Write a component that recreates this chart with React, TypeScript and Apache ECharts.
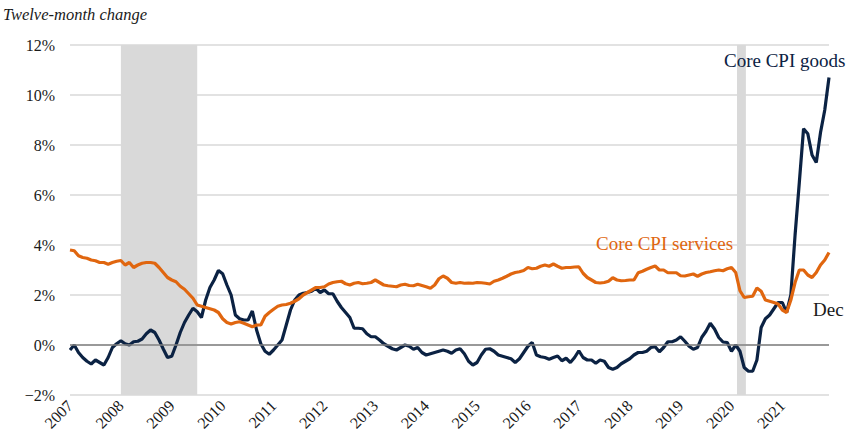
import { useEffect, useRef } from 'react';
import * as echarts from 'echarts';

const yearLabels = ['2007', '2008', '2009', '2010', '2011', '2012', '2013', '2014', '2015', '2016', '2017', '2018', '2019', '2020', '2021'];

// Core CPI goods, twelve-month % change, monthly Jan 2007 - Dec 2021
const coreGoods = [
  -0.2, 0.0, -0.3, -0.5, -0.65, -0.76, -0.6, -0.7, -0.8, -0.5, -0.1, 0.05,
  0.17, 0.05, 0.0, 0.13, 0.15, 0.24, 0.45, 0.6, 0.5, 0.2, -0.16, -0.5,
  -0.45, 0.0, 0.5, 0.9, 1.2, 1.47, 1.33, 1.1, 1.8, 2.3, 2.6, 2.98,
  2.85, 2.4, 2.0, 1.2, 1.05, 1.0, 1.0, 1.36, 0.6, 0.05, -0.25, -0.37,
  -0.2, 0.0, 0.2, 0.8, 1.4, 1.8, 2.0, 2.07, 2.1, 2.15, 2.27, 2.1,
  2.2, 2.05, 2.05, 1.75, 1.5, 1.3, 1.1, 0.67, 0.67, 0.65, 0.45, 0.33,
  0.33, 0.2, 0.05, -0.05, -0.15, -0.2, -0.1, 0.0, -0.05, -0.17, -0.1, -0.3,
  -0.4, -0.35, -0.3, -0.25, -0.2, -0.25, -0.33, -0.2, -0.15, -0.35, -0.65, -0.8,
  -0.7, -0.4, -0.17, -0.15, -0.25, -0.4, -0.45, -0.5, -0.55, -0.7, -0.55, -0.3,
  -0.05, 0.1, -0.4, -0.47, -0.5, -0.57, -0.5, -0.44, -0.63, -0.53, -0.7, -0.5,
  -0.23, -0.5, -0.6, -0.6, -0.73, -0.6, -0.65, -0.9, -0.97, -0.9, -0.75, -0.65,
  -0.55, -0.4, -0.3, -0.3, -0.25, -0.1, -0.07, -0.27, -0.1, 0.13, 0.13, 0.2,
  0.33, 0.15, -0.05, -0.17, -0.1, 0.31, 0.55, 0.87, 0.64, 0.3, 0.12, 0.1,
  -0.25, 0.0, -0.25, -0.9, -1.05, -1.05, -0.6, 0.7, 1.05, 1.2, 1.45, 1.7,
  1.7, 1.3, 2.0, 4.4, 6.5, 8.65, 8.45, 7.6, 7.3, 8.5, 9.4, 10.7,
];

// Core CPI services, twelve-month % change, monthly Jan 2007 - Dec 2021
const coreServices = [
  3.8, 3.77, 3.57, 3.5, 3.47, 3.4, 3.37, 3.3, 3.3, 3.23, 3.3, 3.35,
  3.38, 3.2, 3.3, 3.1, 3.2, 3.27, 3.3, 3.3, 3.27, 3.1, 2.9, 2.7,
  2.6, 2.53, 2.35, 2.23, 2.05, 1.87, 1.6, 1.55, 1.5, 1.45, 1.4, 1.3,
  1.05, 0.9, 0.84, 0.9, 0.93, 0.87, 0.8, 0.73, 0.8, 0.8, 1.15, 1.3,
  1.43, 1.55, 1.6, 1.62, 1.67, 1.75, 1.85, 2.0, 2.1, 2.2, 2.3, 2.3,
  2.33, 2.44, 2.5, 2.53, 2.55, 2.45, 2.4, 2.47, 2.5, 2.45, 2.47, 2.5,
  2.6, 2.5, 2.4, 2.37, 2.35, 2.33, 2.4, 2.43, 2.38, 2.37, 2.43, 2.38,
  2.33, 2.27, 2.4, 2.65, 2.76, 2.67, 2.5, 2.47, 2.5, 2.47, 2.48, 2.47,
  2.5, 2.49, 2.47, 2.44, 2.55, 2.6, 2.67, 2.75, 2.84, 2.9, 2.93, 2.98,
  3.1, 3.05, 3.07, 3.15, 3.2, 3.15, 3.24, 3.15, 3.07, 3.1, 3.1, 3.12,
  3.13, 2.87, 2.7, 2.6, 2.5, 2.48, 2.5, 2.55, 2.69, 2.6, 2.57, 2.58,
  2.6, 2.6, 2.89, 2.95, 3.03, 3.1, 3.16, 3.0, 3.0, 2.89, 2.89, 2.89,
  2.77, 2.76, 2.8, 2.84, 2.75, 2.84, 2.9, 2.93, 2.97, 3.0, 2.97, 3.05,
  3.1, 2.9, 2.17, 1.9, 1.93, 1.95, 2.28, 2.15, 1.8, 1.75, 1.7, 1.64,
  1.4, 1.3, 1.8, 2.5, 3.0, 3.0, 2.8, 2.7, 2.9, 3.2, 3.4, 3.7,
];

// Recession periods in months since Jan 2007
const recessions = [
  [12, 30],
  [157.3, 159.4],
];

const NAVY = '#0b2243';
const ORANGE = '#e0660f';
const FONT = 'Liberation Serif';

export default function App() {
  const ref = useRef<HTMLDivElement>(null);

  useEffect(() => {
    if (!ref.current) return;
    const chart = echarts.init(ref.current, null, { renderer: 'svg' });
    const toPairs = (arr: number[]) => arr.map((v, i) => [i, v]);

    const textStyle = (text: string, fill: string, size: number, italic = false) => ({
      text,
      fill,
      fontFamily: FONT,
      fontSize: size,
      fontStyle: italic ? 'italic' : 'normal',
      verticalAlign: 'middle',
    });

    chart.setOption({
      animation: false,
      textStyle: { fontFamily: FONT },
      grid: { left: 70, right: 24, top: 45, bottom: 48, containLabel: false },
      xAxis: {
        type: 'value',
        min: 0,
        max: 179,
        interval: 12,
        axisLine: { show: false },
        axisTick: { show: false },
        splitLine: { show: false },
        axisLabel: {
          rotate: 45,
          margin: 8,
          fontSize: 16,
          fontFamily: FONT,
          color: '#1a1a1a',
          showMaxLabel: false,
          formatter: (v: number) => (v % 12 === 0 ? yearLabels[v / 12] ?? '' : ''),
        },
      },
      yAxis: {
        type: 'value',
        min: -2,
        max: 12,
        interval: 2,
        axisLine: { show: false },
        axisTick: { show: false },
        splitLine: { lineStyle: { color: '#d9d9d9', width: 1.5 } },
        axisLabel: {
          margin: 15,
          fontSize: 16,
          fontFamily: FONT,
          color: '#1a1a1a',
          formatter: (v: number) => (v < 0 ? '\u2212' + Math.abs(v) : String(v)) + '%',
        },
      },
      series: [
        {
          name: 'Core CPI goods',
          type: 'line',
          data: toPairs(coreGoods),
          showSymbol: false,
          lineStyle: { color: NAVY, width: 3.2 },
          itemStyle: { color: NAVY },
          z: 3,
          markArea: {
            silent: true,
            itemStyle: { color: '#d9d9d9' },
            data: recessions.map(([a, b]) => [{ xAxis: a }, { xAxis: b }]),
          },
          markLine: {
            silent: true,
            symbol: 'none',
            label: { show: false },
            lineStyle: { color: '#808080', width: 1.5, type: 'solid' },
            data: [{ yAxis: 0 }],
          },
        },
        {
          name: 'Core CPI services',
          type: 'line',
          data: toPairs(coreServices),
          showSymbol: false,
          lineStyle: { color: ORANGE, width: 3.2 },
          itemStyle: { color: ORANGE },
          z: 4,
        },
      ],
      graphic: [
        { type: 'text', x: 3, y: 14, z: 100, style: textStyle('Twelve-month change', '#1a1a1a', 16.5, true) },
        { type: 'text', x: 724, y: 60, z: 100, style: textStyle('Core CPI goods', NAVY, 19) },
        { type: 'text', x: 596, y: 243, z: 100, style: textStyle('Core CPI services', ORANGE, 19) },
        { type: 'text', x: 813, y: 309, z: 100, style: textStyle('Dec', '#1a1a1a', 19) },
      ],
    });

    return () => chart.dispose();
  }, []);

  return (
    <div
      ref={ref}
      style={{ position: 'fixed', left: 0, top: 0, width: 853, height: 443, background: '#fff' }}
    />
  );
}
